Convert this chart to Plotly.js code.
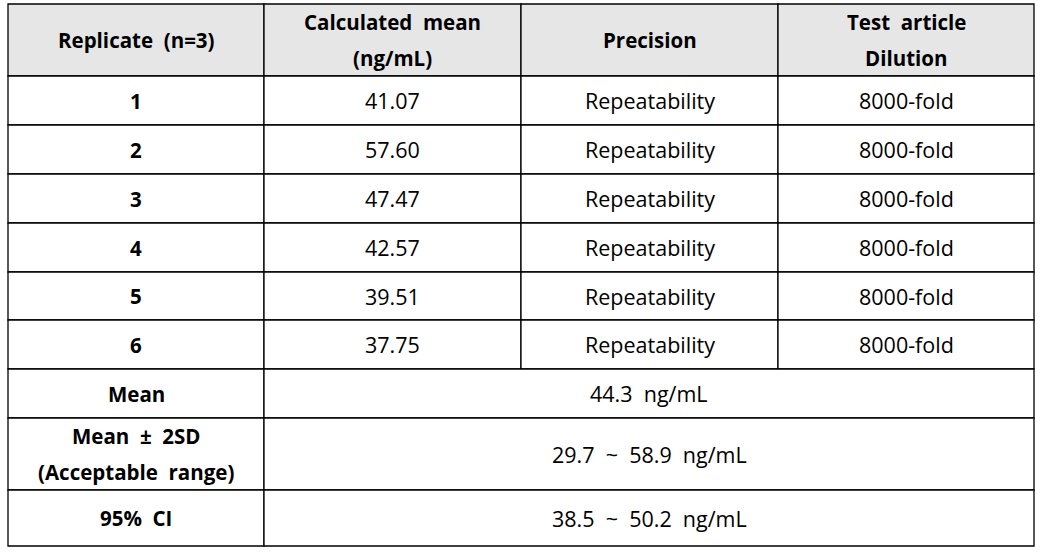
<!DOCTYPE html>
<html>
<head>
<meta charset="utf-8">
<script src="https://cdn.plot.ly/plotly-3.0.1.min.js"></script>
<style>
  html, body { margin: 0; padding: 0; background: #fff; }
  #table { width: 1051px; height: 552px; }
</style>
</head>
<body>
<div id="table"></div>
<script>
// table content
const headers = [['Replicate\u00a0 (n=3)'], ['Calculated\u00a0 mean', '(ng/mL)'], ['Precision'], ['Test\u00a0 article', 'Dilution']];
const replicates = ['1', '2', '3', '4', '5', '6'];
const calcMeans = ['41.07', '57.60', '47.47', '42.57', '39.51', '37.75'];
const precision = ['Repeatability', 'Repeatability', 'Repeatability', 'Repeatability', 'Repeatability', 'Repeatability'];
const dilution = ['8000-fold', '8000-fold', '8000-fold', '8000-fold', '8000-fold', '8000-fold'];
const summaryLabels = [['Mean'], ['Mean\u00a0 \u00b1\u00a0 2SD', '(Acceptable\u00a0 range)'], ['95%\u00a0 CI']];
const summaryValues = ['44.3\u00a0 ng/mL', '29.7\u00a0 ~\u00a0 58.9\u00a0 ng/mL', '38.5\u00a0 ~\u00a0 50.2\u00a0 ng/mL'];

// grid (pixel layout)
const colEdges = [8, 264, 521, 778, 1034];
const rowEdges = [4, 76, 125, 174, 223, 272, 320, 369, 418, 490, 546];
const lineGap = 36;
const fontFamily = '"Open Sans", "Noto Sans", sans-serif';

let shapes = [];
let annotations = [];

function addCell(c0, c1, r, fill) {
    shapes.push({
        type: 'rect', xref: 'x', yref: 'y',
        x0: colEdges[c0], x1: colEdges[c1], y0: rowEdges[r], y1: rowEdges[r + 1],
        fillcolor: fill, line: { color: '#000', width: 1.3 }, layer: 'below'
    });
}

function addText(lines, c0, c1, r, bold) {
    let cx = (colEdges[c0] + colEdges[c1]) / 2;
    let cy = (rowEdges[r] + rowEdges[r + 1]) / 2;
    let start = cy - (lines.length - 1) * lineGap / 2;
    lines.forEach((t, i) => {
        annotations.push({
            x: cx, y: start + i * lineGap, xref: 'x', yref: 'y',
            text: t, showarrow: false, xanchor: 'center', yanchor: 'middle',
            font: { family: fontFamily, size: bold ? 20.5 : 21.5, color: '#000', weight: bold ? 'bold' : 'normal' }
        });
    });
}

// header
headers.forEach((h, c) => {
    addCell(c, c + 1, 0, '#e7e6e6');
    addText(h, c, c + 1, 0, true);
});

// replicate rows
replicates.forEach((rep, i) => {
    let r = i + 1;
    let cells = [rep, calcMeans[i], precision[i], dilution[i]];
    cells.forEach((t, c) => {
        addCell(c, c + 1, r, '#fff');
        addText([t], c, c + 1, r, c === 0);
    });
});

// summary rows (value spans three columns)
summaryLabels.forEach((lab, i) => {
    let r = replicates.length + 1 + i;
    addCell(0, 1, r, '#fff');
    addText(lab, 0, 1, r, true);
    addCell(1, 4, r, '#fff');
    addText([summaryValues[i]], 1, 4, r, false);
});

let layout = {
    width: 1051, height: 552,
    margin: { l: 0, r: 0, t: 0, b: 0 },
    paper_bgcolor: '#fff', plot_bgcolor: '#fff',
    xaxis: { range: [0, 1051], visible: false, fixedrange: true },
    yaxis: { range: [552, 0], visible: false, fixedrange: true },
    shapes: shapes,
    annotations: annotations,
    showlegend: false
};

Plotly.newPlot('table', [], layout, { displayModeBar: false, staticPlot: true });
</script>
</body>
</html>
